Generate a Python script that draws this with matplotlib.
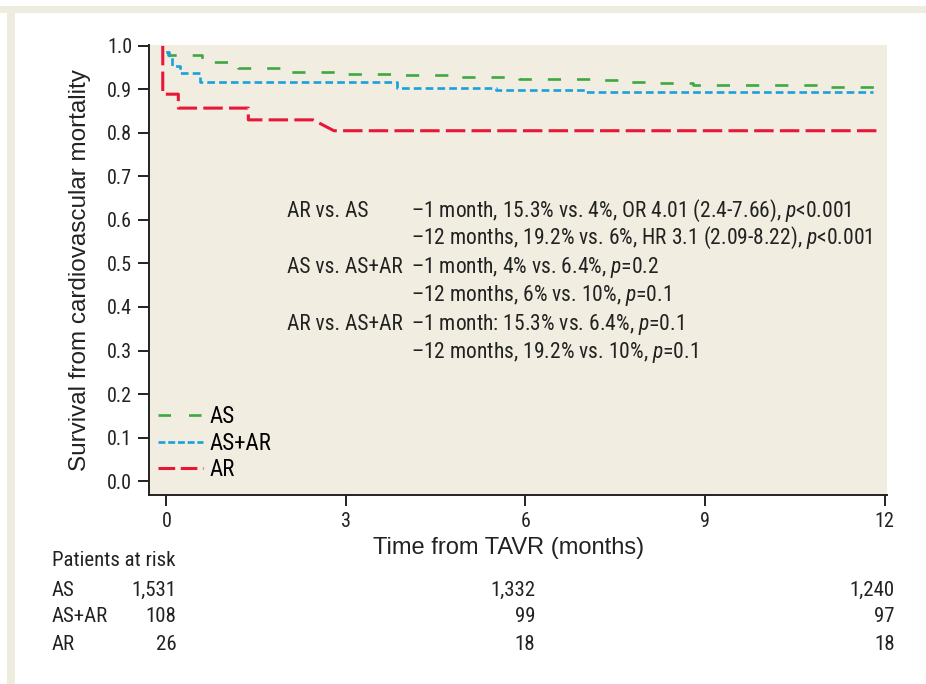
import matplotlib
matplotlib.use("Agg")
import matplotlib.pyplot as plt
from matplotlib import font_manager
from matplotlib.lines import Line2D
from matplotlib.patches import Rectangle

# fontes: condensada para ticks/textos, normal para os rótulos dos eixos
nomes = {f.name for f in font_manager.fontManager.ttflist}
cond = "DejaVu Sans"
for nome in ["Roboto Condensed", "Archivo Narrow", "Barlow Semi Condensed", "Asap Condensed"]:
    if nome in nomes:
        cond = nome
        break
normal = "Liberation Sans" if "Liberation Sans" in nomes else "DejaVu Sans"

plt.rcParams["font.family"] = [cond, "DejaVu Sans"]
plt.rcParams["mathtext.fontset"] = "custom"
plt.rcParams["mathtext.it"] = cond + ":italic"
plt.rcParams["mathtext.rm"] = cond
plt.rcParams["lines.scale_dashes"] = False

# dados
as_t = [0, 0.03, 0.6, 1.2, 2.0, 2.9, 3.9, 4.9, 5.9, 7.2, 7.7, 8.2, 8.8, 9.8, 11.0, 11.85]
as_s = [0.985, 0.979, 0.962, 0.95, 0.941, 0.935, 0.932, 0.929, 0.925, 0.922, 0.918, 0.914, 0.911, 0.909, 0.906, 0.905]

asar_t = [0, 0.04, 0.1, 0.23, 0.57, 3.85, 5.5, 7.0, 7.7, 11.8]
asar_s = [0.985, 0.975, 0.953, 0.937, 0.916, 0.904, 0.899, 0.895, 0.893, 0.893]

ar_t = [-0.06, -0.06, 0.2, 0.2, 1.37, 1.37, 2.45, 2.8, 11.9]
ar_s = [1.0, 0.889, 0.889, 0.857, 0.857, 0.83, 0.83, 0.805, 0.805]

risk_groups = ["AS", "AS+AR", "AR"]
risk_months = [0, 6, 12]
risk_counts = [["1,531", "1,332", "1,240"],
               ["108", "99", "97"],
               ["26", "18", "18"]]

comp_labels = ["AR vs. AS", "", "AS vs. AS+AR", "", "AR vs. AS+AR", ""]
comp_texts = [
    r"–1 month, 15.3% vs. 4%, OR 4.01 (2.4-7.66), $p$<0.001",
    r"–12 months, 19.2% vs. 6%, HR 3.1 (2.09-8.22), $p$<0.001",
    r"–1 month, 4% vs. 6.4%, $p$=0.2",
    r"–12 months, 6% vs. 10%, $p$=0.1",
    r"–1 month: 15.3% vs. 6.4%, $p$=0.1",
    r"–12 months, 19.2% vs. 10%, $p$=0.1",
]

W, H = 926, 684
fig = plt.figure(figsize=(W / 100, H / 100), dpi=100)
fig.patch.set_facecolor("white")

# moldura bege do layout
bege = "#eeebdf"
fig.add_artist(Rectangle((0, 1 - 12.5 / H), 1, 6.5 / H, transform=fig.transFigure,
                         facecolor=bege, edgecolor="none"))
fig.add_artist(Rectangle((7 / W, 0), 8 / W, 1 - 12.5 / H, transform=fig.transFigure,
                         facecolor=bege, edgecolor="none"))

ax = fig.add_axes([149 / W, 1 - 495 / H, (887 - 149) / W, (495 - 45) / H])
ax.set_facecolor("#f1ede0")
ax.set_xlim(-0.29, 12.04)
ax.set_ylim(-0.032, 1.002)

verde, azul, vermelho = "#3fa842", "#1aa0dc", "#e8173a"
ax.plot(as_t, as_s, drawstyle="steps-post", color=verde, lw=1.9, dashes=(9.5, 11.5), label="AS")
ax.plot(asar_t, asar_s, drawstyle="steps-post", color=azul, lw=1.9, dashes=(5.5, 3), label="AS+AR")
ax.plot(ar_t, ar_s, color=vermelho, lw=2.2, dashes=(14, 4.5), label="AR")

for s in ["top", "right"]:
    ax.spines[s].set_visible(False)
for s in ["left", "bottom"]:
    ax.spines[s].set_linewidth(1.4)
    ax.spines[s].set_color("#222222")

ax.set_xticks([0, 3, 6, 9, 12])
ax.set_yticks([i / 10 for i in range(11)])
ax.set_yticklabels([f"{i / 10:.1f}" for i in range(11)])
ax.tick_params(axis="both", direction="out", length=8, width=1.4, labelsize=14.5,
               pad=4, colors="#222222")

leg_handles = [Line2D([0], [0], color=verde, lw=1.9, dashes=(9, 13)),
               Line2D([0], [0], color=azul, lw=1.9, dashes=(5, 2)),
               Line2D([0], [0], color=vermelho, lw=2.2, dashes=(12, 4))]
ax.legend(leg_handles, ["AS", "AS+AR", "AR"], loc="lower left", bbox_to_anchor=(0.012, 0.03),
          frameon=False, fontsize=16.5, handlelength=1.95, handletextpad=0.3,
          labelspacing=0.17, borderaxespad=0, borderpad=0)

# rótulos dos eixos (fonte normal)
fig.text(509 / W, 1 - 548 / H, "Time from TAVR (months)", family=normal,
         fontsize=17, ha="center", va="center", color="#222222")
fig.text(80 / W, 1 - 270 / H, "Survival from cardiovascular mortality", family=normal,
         fontsize=17.5, ha="center", va="center", rotation=90, color="#222222")

# bloco de comparações
base_y = [217, 244, 273, 301, 330, 358]
for lab, txt, y in zip(comp_labels, comp_texts, base_y):
    if lab:
        fig.text(287 / W, 1 - y / H, lab, fontsize=15.5, va="baseline", color="#222222")
    fig.text(411 / W, 1 - y / H, txt, fontsize=15.5, va="baseline", color="#222222")

# pacientes em risco
fig.text(52 / W, 1 - 560 / H, "Patients at risk", fontsize=15, va="center", color="#222222")
row_y = [590, 617, 645]
for g, counts, y in zip(risk_groups, risk_counts, row_y):
    fig.text(52 / W, 1 - y / H, g, fontsize=15, va="center", color="#222222")
    for m, c in zip(risk_months, counts):
        xd = ax.transData.transform((m, 0))[0]
        fig.text((xd + 10) / W, 1 - y / H, c, fontsize=15, va="center", ha="right",
                 color="#222222")

fig.savefig("out.png", dpi=100)
